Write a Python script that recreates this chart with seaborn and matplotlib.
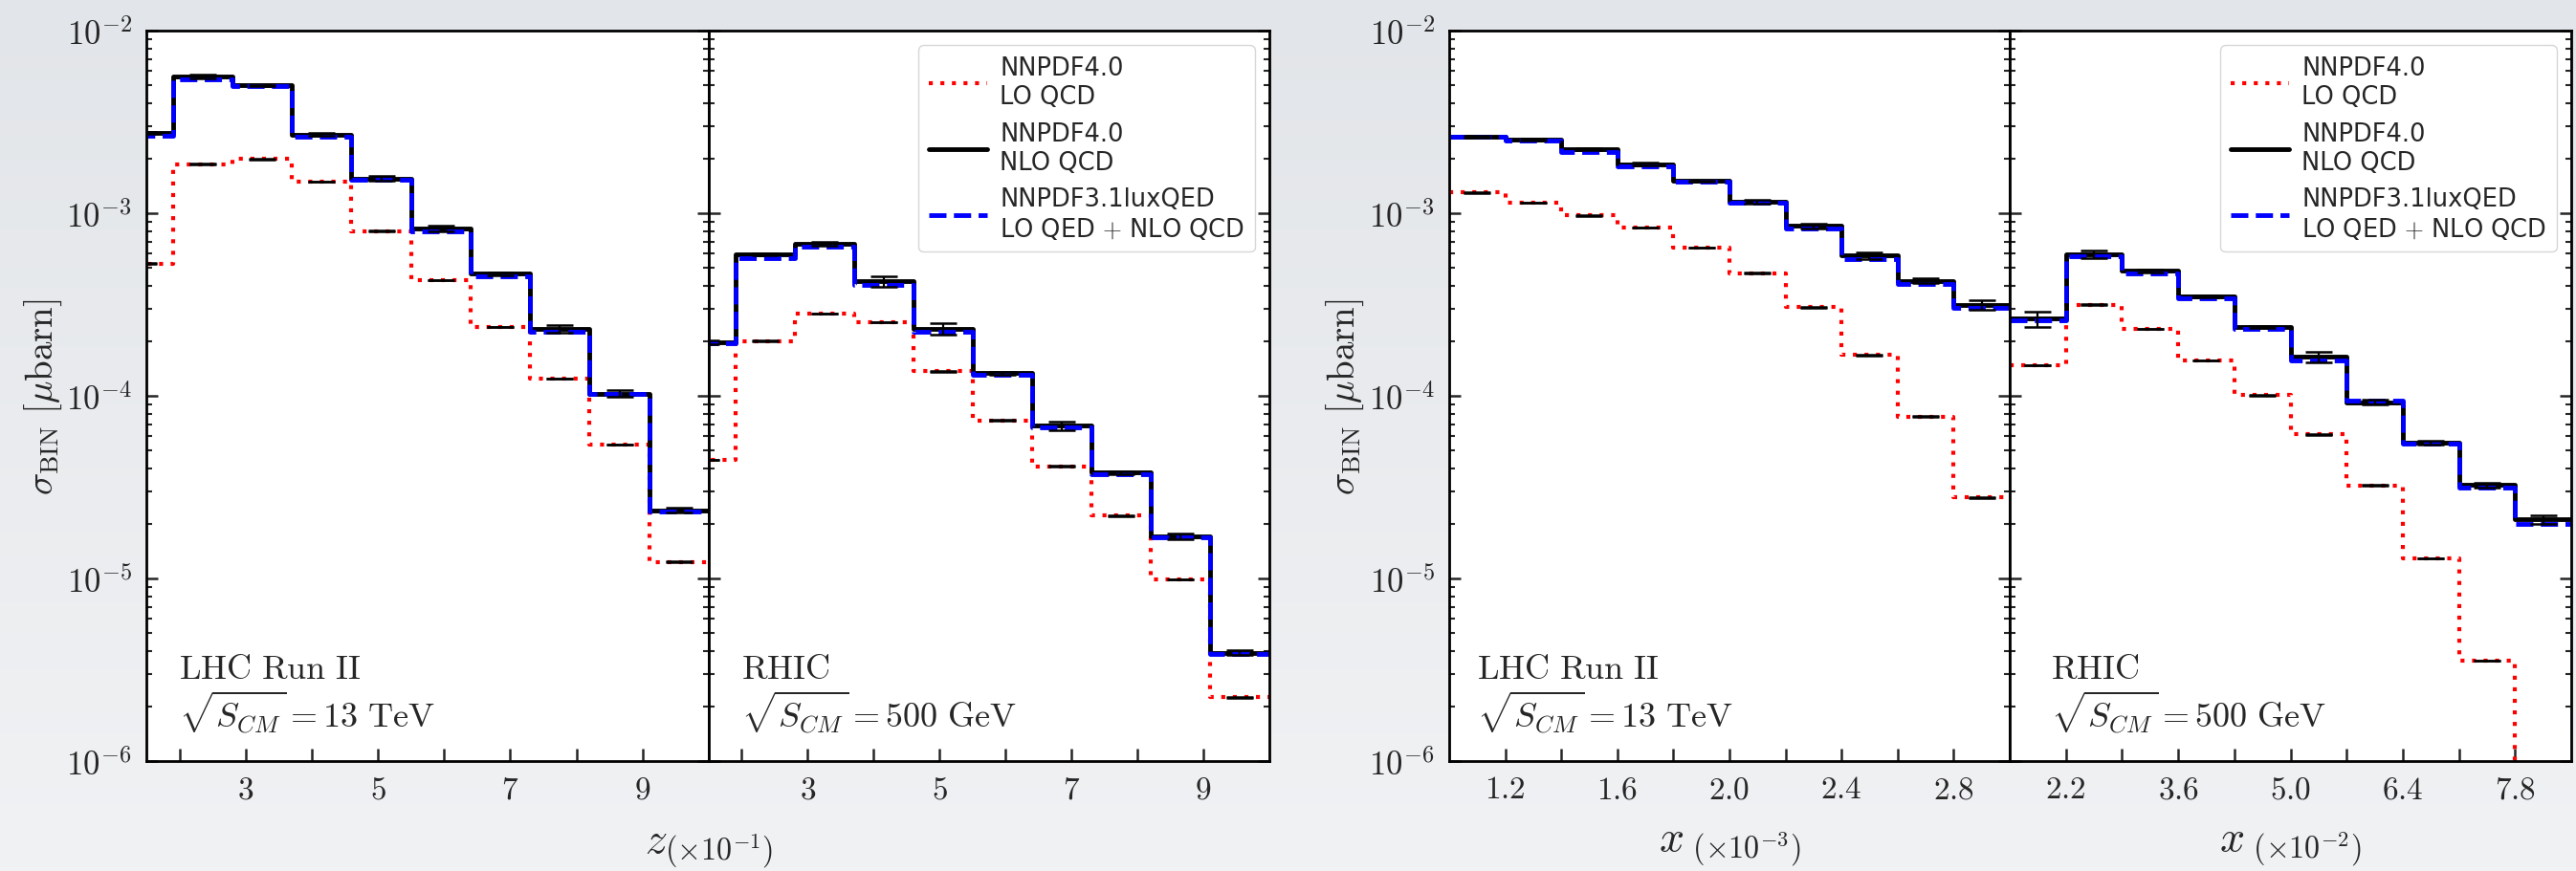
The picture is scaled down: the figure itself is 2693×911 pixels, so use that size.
import numpy as np
import pandas as pd
import seaborn as sns
import matplotlib.pyplot as plt
from matplotlib.lines import Line2D
from matplotlib.colors import LinearSegmentedColormap
from matplotlib.ticker import (FixedLocator, FixedFormatter, FuncFormatter,
                               LogLocator, NullFormatter)

# ---- data (x in the units printed on each axis) ----
z_edges = [1.0, 1.9, 2.8, 3.7, 4.6, 5.5, 6.4, 7.3, 8.2, 9.1, 10.0]
x_lhc_edges = [1.0, 1.2, 1.4, 1.6, 1.8, 2.0, 2.2, 2.4, 2.6, 2.8, 3.0]
x_rhic_edges = [1.5, 2.2, 2.9, 3.6, 4.3, 5.0, 5.7, 6.4, 7.1, 7.8, 8.5]

# z distribution, LHC Run II
lo_z_lhc = [5.3e-4, 1.86e-3, 1.98e-3, 1.49e-3, 8.0e-4, 4.3e-4, 2.38e-4, 1.24e-4, 5.4e-5, 1.23e-5]
nlo_z_lhc = [2.76e-3, 5.58e-3, 5.01e-3, 2.70e-3, 1.55e-3, 8.26e-4, 4.66e-4, 2.33e-4, 1.03e-4, 2.36e-5]
qed_z_lhc = [2.67e-3, 5.43e-3, 4.96e-3, 2.63e-3, 1.52e-3, 8.0e-4, 4.52e-4, 2.23e-4, 1.02e-4, 2.32e-5]
err_z_lhc = [0.012, 0.024, 0.005, 0.022, 0.032, 0.032, 0.022, 0.053, 0.043, 0.032]

# z distribution, RHIC
lo_z_rhic = [4.46e-5, 2.0e-4, 2.82e-4, 2.53e-4, 1.36e-4, 7.33e-5, 4.11e-5, 2.21e-5, 9.9e-6, 2.23e-6]
nlo_z_rhic = [1.96e-4, 5.98e-4, 6.81e-4, 4.25e-4, 2.33e-4, 1.33e-4, 6.88e-5, 3.79e-5, 1.70e-5, 3.92e-6]
qed_z_rhic = [1.93e-4, 5.70e-4, 6.54e-4, 4.06e-4, 2.23e-4, 1.30e-4, 6.68e-5, 3.72e-5, 1.67e-5, 3.85e-6]
err_z_rhic = [0.022, 0.012, 0.022, 0.065, 0.075, 0.022, 0.053, 0.022, 0.032, 0.032]

# x distribution, LHC Run II
lo_x_lhc = [1.30e-3, 1.14e-3, 9.71e-4, 8.34e-4, 6.49e-4, 4.70e-4, 3.05e-4, 1.67e-4, 7.69e-5, 2.78e-5]
nlo_x_lhc = [2.63e-3, 2.53e-3, 2.23e-3, 1.86e-3, 1.50e-3, 1.16e-3, 8.50e-4, 5.87e-4, 4.26e-4, 3.15e-4]
qed_x_lhc = [2.63e-3, 2.50e-3, 2.17e-3, 1.81e-3, 1.49e-3, 1.14e-3, 8.26e-4, 5.64e-4, 4.08e-4, 3.02e-4]
err_x_lhc = [0.012, 0.012, 0.012, 0.022, 0.005, 0.022, 0.032, 0.043, 0.032, 0.065]

# x distribution, RHIC
lo_x_rhic = [1.47e-4, 3.16e-4, 2.33e-4, 1.56e-4, 1.01e-4, 6.15e-5, 3.23e-5, 1.29e-5, 3.54e-6, 6.0e-7]
nlo_x_rhic = [2.64e-4, 5.96e-4, 4.83e-4, 3.50e-4, 2.38e-4, 1.64e-4, 9.23e-5, 5.52e-5, 3.25e-5, 2.11e-5]
qed_x_rhic = [2.58e-4, 5.80e-4, 4.68e-4, 3.43e-4, 2.33e-4, 1.57e-4, 9.42e-5, 5.46e-5, 3.13e-5, 1.99e-5]
err_x_rhic = [0.099, 0.043, 0.022, 0.012, 0.012, 0.065, 0.032, 0.022, 0.032, 0.053]

lo_err = 0.004  # LO error bars are barely visible

series = ["NNPDF4.0\nLO QCD", "NNPDF4.0\nNLO QCD", "NNPDF3.1luxQED\nLO QED $+$ NLO QCD"]
palette = dict(zip(series, ["red", "black", "blue"]))
dashes = dict(zip(series, [(1, 1.9), "", (3.7, 1.6)]))
widths = [3.0, 3.5, 3.5]

# ---- style ----
sns.set_style("ticks")
plt.rcParams["font.family"] = ["DejaVu Sans"]
plt.rcParams["mathtext.fontset"] = "cm"
plt.rcParams["axes.linewidth"] = 2.0

W, H = 2693, 912
fig = plt.figure(figsize=(W / 100, H / 100), dpi=100)

# slide-like grey gradient background
bg = fig.add_axes([0, 0, 1, 1], zorder=-10)
bg_cmap = LinearSegmentedColormap.from_list("bg", ["#e2e5e9", "#f1f2f4"])
bg.imshow(np.linspace(0, 1, 256).reshape(-1, 1), aspect="auto", cmap=bg_cmap)
bg.axis("off")


def px_axes(x0, x1, y0=33, y1=797):
    return [x0 / W, 1 - y1 / H, (x1 - x0) / W, (y1 - y0) / H]


ax1 = fig.add_axes(px_axes(153, 741))
ax2 = fig.add_axes(px_axes(741, 1327), sharey=ax1)
ax3 = fig.add_axes(px_axes(1515, 2101))
ax4 = fig.add_axes(px_axes(2101, 2688), sharey=ax3)


def draw_panel(ax, edges, lo, nlo, qed, nlo_err):
    rows = []
    for name, vals in zip(series, [lo, nlo, qed]):
        ys = list(vals) + [vals[-1]]
        for e, v in zip(edges, ys):
            rows.append({"edge": e, "sigma": v, "pdf": name})
    df = pd.DataFrame(rows)
    sns.lineplot(data=df, x="edge", y="sigma", hue="pdf", style="pdf",
                 hue_order=series, style_order=series, palette=palette,
                 dashes=dashes, drawstyle="steps-post", estimator=None,
                 sort=False, legend=False, ax=ax)
    for line, lw in zip(ax.get_lines(), widths):
        line.set_linewidth(lw)

    centers = [(a + b) / 2 for a, b in zip(edges[:-1], edges[1:])]
    lo = np.array(lo)
    nlo = np.array(nlo)
    ax.errorbar(centers, lo, yerr=lo * lo_err, fmt="none", ecolor="black",
                elinewidth=1.6, capsize=10, capthick=1.8, zorder=5)
    ax.errorbar(centers, nlo, yerr=nlo * np.array(nlo_err), fmt="none",
                ecolor="black", elinewidth=1.6, capsize=10, capthick=1.8, zorder=5)


draw_panel(ax1, z_edges, lo_z_lhc, nlo_z_lhc, qed_z_lhc, err_z_lhc)
draw_panel(ax2, z_edges, lo_z_rhic, nlo_z_rhic, qed_z_rhic, err_z_rhic)
draw_panel(ax3, x_lhc_edges, lo_x_lhc, nlo_x_lhc, qed_x_lhc, err_x_lhc)
draw_panel(ax4, x_rhic_edges, lo_x_rhic, nlo_x_rhic, qed_x_rhic, err_x_rhic)

# ---- axes formatting ----
z_ticks = [2, 3, 4, 5, 6, 7, 8, 9]
z_labels = ["" if t % 2 == 0 else r"$%d$" % t for t in z_ticks]
x_lhc_ticks = [1.2, 1.4, 1.6, 1.8, 2.0, 2.2, 2.4, 2.6, 2.8]
x_lhc_labels = [r"$%.1f$" % t if i % 2 == 0 else "" for i, t in enumerate(x_lhc_ticks)]
x_rhic_ticks = [2.2, 2.9, 3.6, 4.3, 5.0, 5.7, 6.4, 7.1, 7.8]
x_rhic_labels = [r"$%.1f$" % t if i % 2 == 0 else "" for i, t in enumerate(x_rhic_ticks)]

xsetup = [
    (ax1, (1.5, 10.0), z_ticks, z_labels),
    (ax2, (1.5, 10.0), z_ticks, z_labels),
    (ax3, (1.0, 3.0), x_lhc_ticks, x_lhc_labels),
    (ax4, (1.5, 8.5), x_rhic_ticks, x_rhic_labels),
]
for ax, lim, ticks, labels in xsetup:
    ax.set_yscale("log")
    ax.set_ylim(1e-6, 1e-2)
    ax.set_xlim(*lim)
    ax.xaxis.set_major_locator(FixedLocator(ticks))
    ax.xaxis.set_major_formatter(FixedFormatter(labels))
    ax.yaxis.set_major_locator(LogLocator(base=10, numticks=10))
    ax.yaxis.set_minor_locator(LogLocator(base=10, subs=np.arange(2, 10), numticks=10))
    ax.yaxis.set_minor_formatter(NullFormatter())
    ax.yaxis.set_major_formatter(FuncFormatter(lambda v, p: r"$10^{%d}$" % round(np.log10(v))))
    ax.tick_params(axis="y", which="major", direction="in", length=8.6, width=1.8,
                   left=True, right=True, labelsize=25, pad=11)
    ax.tick_params(axis="y", which="minor", direction="in", length=4.3, width=1.5,
                   left=True, right=True)
    ax.tick_params(axis="x", which="major", direction="in", length=9.4, width=1.8,
                   bottom=True, top=False, labelsize=24, pad=9)
    ax.tick_params(axis="x", which="minor", bottom=False, top=False)
    ax.set_xlabel("")
    ax.set_ylabel("")
    for sp in ax.spines.values():
        sp.set_visible(True)
        sp.set_color("black")
        sp.set_linewidth(2.0)

ax2.tick_params(axis="y", which="both", labelleft=False)
ax4.tick_params(axis="y", which="both", labelleft=False)

ylab = r"$\sigma_{\rm BIN}\ [\mu{\rm barn}]$"
for ax, xoff in ((ax1, -0.146), (ax3, -0.148)):
    ax.set_ylabel(ylab, fontsize=28)
    ax.yaxis.set_label_coords(xoff, 0.5)

ax1.set_xlabel(r"$z_{(\times 10^{-1})}$", fontsize=33)
ax1.xaxis.set_label_coords(1.0, -0.09)
ax3.set_xlabel(r"$x_{\ (\times 10^{-3})}$", fontsize=33)
ax3.xaxis.set_label_coords(0.5, -0.088)
ax4.set_xlabel(r"$x_{\ (\times 10^{-2})}$", fontsize=33)
ax4.xaxis.set_label_coords(0.5, -0.088)

lhc_txt = r"$\mathrm{LHC\ Run\ II}$" + "\n" + r"$\sqrt{S_{CM}} = 13\ \mathrm{TeV}$"
rhic_txt = r"$\mathrm{RHIC}$" + "\n" + r"$\sqrt{S_{CM}} = 500\ \mathrm{GeV}$"
for ax, txt, xf in ((ax1, lhc_txt, 0.058), (ax2, rhic_txt, 0.058),
                    (ax3, lhc_txt, 0.05), (ax4, rhic_txt, 0.073)):
    ax.text(xf, 0.035, txt, transform=ax.transAxes, fontsize=26,
            ha="left", va="bottom", linespacing=1.1)

handles = [Line2D([], [], color="red", linestyle=(0, (1, 1.9)), lw=3.0),
           Line2D([], [], color="black", lw=3.5),
           Line2D([], [], color="blue", linestyle="--", lw=3.5)]
for ax in (ax2, ax4):
    ax.legend(handles, series, loc="upper right", fontsize=18.5,
              handlelength=2.4, handletextpad=0.5, framealpha=0.8,
              edgecolor="0.8", fancybox=True, borderaxespad=0.6)

fig.savefig("out.png", dpi=100)
